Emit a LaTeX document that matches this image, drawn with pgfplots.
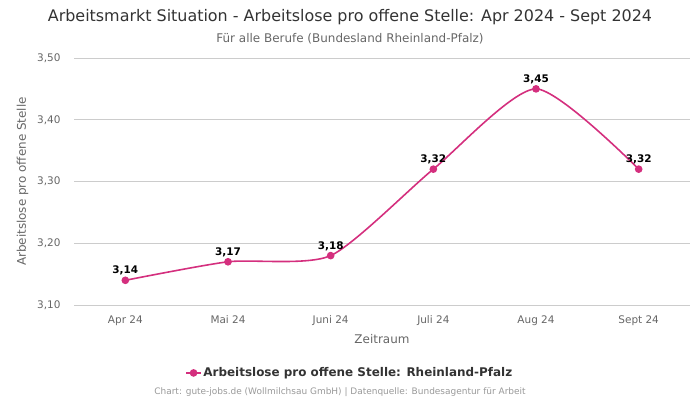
\documentclass[border=0pt]{standalone}
\usepackage{pgfplots}
\pgfplotsset{compat=1.18}
\usepackage{fontspec}
\setmainfont{DejaVu Sans}
\definecolor{linec}{HTML}{D42F7E}
\definecolor{gridc}{HTML}{CCCCCC}
\definecolor{tickc}{HTML}{666666}
\definecolor{titlec}{HTML}{333333}
\begin{document}
\begin{tikzpicture}[x=1bp,y=1bp]
\useasboundingbox (0,0) rectangle (700,400);
\node[font=\fontsize{16}{18}\selectfont, text=titlec] at (350,383) {Arbeitsmarkt Situation - Arbeitslose pro offene Stelle: Apr 2024 - Sept 2024};
\node[font=\fontsize{12}{14}\selectfont, text=tickc] at (350,361) {Für alle Berufe (Bundesland Rheinland-Pfalz)};
\node[font=\fontsize{9}{10}\selectfont, text=black!40] at (340,8) {Chart: gute-jobs.de (Wollmilchsau GmbH) | Datenquelle: Bundesagentur für Arbeit};
\begin{axis}[
  at={(74bp,95bp)}, anchor=south west,
  scale only axis, width=616bp, height=247bp,
  xmin=-0.5, xmax=5.5, ymin=3.10, ymax=3.50,
  xtick={0,1,2,3,4,5},
  xticklabels={Apr 24,Mai 24,Juni 24,Juli 24,Aug 24,Sept 24},
  ytick={3.10,3.20,3.30,3.40,3.50},
  yticklabel style={xshift=-10pt, /pgf/number format/.cd, fixed, fixed zerofill, precision=2, use comma},
  /pgf/number format/assume math mode=true,
  axis line style={draw=none},
  major tick length=0pt,
  ymajorgrids, grid style={gridc, line width=0.8pt},
  tick label style={font=\fontsize{10.5}{12}\selectfont, text=tickc},
  xticklabel style={yshift=-7pt},
  xlabel={Zeitraum}, ylabel={Arbeitslose pro offene Stelle},
  label style={font=\fontsize{12}{14}\selectfont, text=tickc},
  xlabel style={yshift=-2pt},
  ylabel style={yshift=2pt},
  legend style={at={(0.448,-0.275)}, anchor=center, draw=none, fill=none,
    font=\fontsize{12}{14}\selectfont\bfseries, text=titlec},
  legend image code/.code={\draw[linec, line width=1.6pt] (-0.5mm,0mm) -- (4.5mm,0mm); \fill[linec] (2mm,0mm) circle (3pt);},
  clip=false,
]
\addplot[linec, line width=1.6pt, smooth, tension=0.4, mark=*, mark size=3pt, mark options={fill=linec, draw=linec},
  nodes near coords, point meta=explicit symbolic,
  nodes near coords style={font=\fontsize{10.5}{12}\selectfont\bfseries, text=black, yshift=1pt}]
  table[meta=lab] {
x y lab
0 3.14 {3,14}
1 3.17 {3,17}
2 3.18 {3,18}
3 3.32 {3,32}
4 3.45 {3,45}
5 3.32 {3,32}
};
\addlegendentry{Arbeitslose pro offene Stelle: Rheinland-Pfalz}
\end{axis}
\end{tikzpicture}
\end{document}
